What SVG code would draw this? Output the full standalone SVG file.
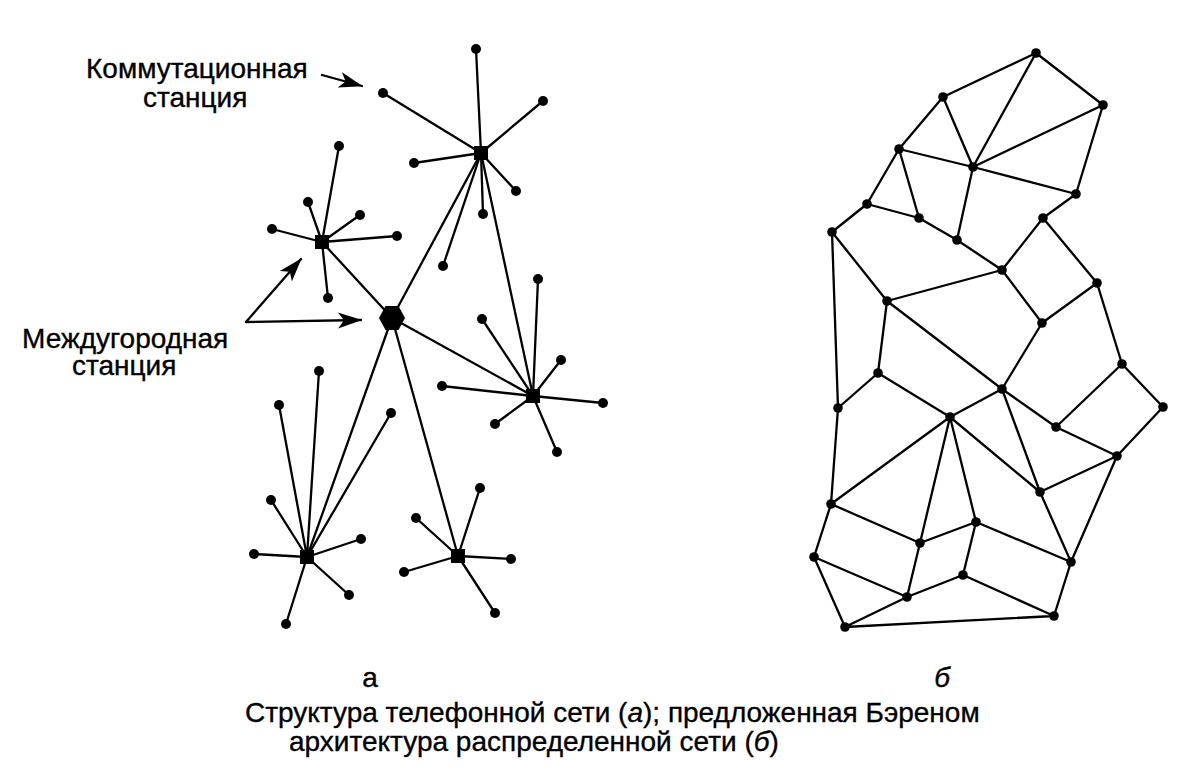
<svg xmlns="http://www.w3.org/2000/svg" width="1204" height="784" viewBox="0 0 1204 784">
<defs>
<style>
.e{stroke:#000;stroke-width:2.3;fill:none;stroke-linecap:round}
.d{fill:#000}
.s{fill:#000}
.t{font-family:"Liberation Sans",Arial,sans-serif;font-size:28px;fill:#000;stroke:#000;stroke-width:0.35}
</style>
<marker id="ah" viewBox="0 0 24 18" refX="23" refY="9" markerWidth="24" markerHeight="18" markerUnits="userSpaceOnUse" orient="auto" overflow="visible">
<path d="M0,1 L24,9 L0,17 L6,9 Z" fill="#000"/>
</marker>
</defs>
<rect width="1204" height="784" fill="#fff"/>

<g id="connectors">
<path class="e" d="M481,153L476,49M481,153L383,93M481,153L543,101M481,153L414,163M481,153L516,191M481,153L483,214M481,153L443,266"/>
<path class="e" d="M322,242L339,146M322,242L308,202M322,242L360,215M322,242L272,229M322,242L397,236M322,242L328,298"/>
<path class="e" d="M533,396L538,279M533,396L482,319M533,396L561,360M533,396L442,386M533,396L603,403M533,396L495,424M533,396L557,452"/>
<path class="e" d="M307,557L319,371M307,557L279,405M307,557L391,413M307,557L271,500M307,557L254,554M307,557L361,539M307,557L349,595M307,557L286,624"/>
<path class="e" d="M458,556L480,488M458,556L416,518M458,556L511,559M458,556L404,572M458,556L495,613"/>
<path class="e" d="M392,318L481,153M392,318L322,242M392,318L533,396M392,318L307,557M392,318L458,556M481,153L533,396"/>
<path class="e" d="M943,97L1036,53M1036,53L1103,105M1036,53L973,167M943,97L973,167M1103,105L973,167M1103,105L1076,194M973,167L1076,194M899,149L943,97M899,149L973,167M899,149L867,204M899,149L919,218M867,204L919,218M867,204L832,232M919,218L957,240M973,167L957,240M1076,194L1043,218M1043,218L1002,270M957,240L1002,270M1043,218L1097,283M1002,270L887,301M1002,270L1042,323M1097,283L1042,323M832,232L887,301"/>
<path class="e" d="M1097,283L1122,364M887,301L878,373M887,301L1002,389M1042,323L1002,389M832,232L838,408M1122,364L1163,407M1122,364L1056,427M1163,407L1117,456M1056,427L1117,456M1002,389L1056,427M1002,389L950,417M1002,389L1040,492M878,373L950,417M878,373L838,408M950,417L831,504M950,417L920,543M950,417L976,522M950,417L1040,492M1040,492L1117,456M1117,456L1071,562M1040,492L1071,562M838,408L831,504M831,504L920,543M831,504L814,557M920,543L976,522M976,522L963,575M976,522L1071,562M920,543L907,597M814,557L907,597M814,557L845,627M907,597L963,575M907,597L845,627M963,575L1054,616M1071,562L1054,616M845,627L1054,616"/>
<path class="e" d="M322,75L362,86" marker-end="url(#ah)"/>
<path class="e" d="M246,322L301,259" marker-end="url(#ah)"/>
<path class="e" d="M246,322L361,320" marker-end="url(#ah)"/>
</g>

<g id="hub-hex"><polygon class="s" points="405,318 398.5,306 385.5,306 379,318 385.5,330 398.5,330"/></g>
<g id="hub-A"><rect class="s" x="474" y="146" width="14" height="14"/></g>
<g id="hub-B"><rect class="s" x="315" y="235" width="14" height="14"/></g>
<g id="hub-C"><rect class="s" x="526" y="389" width="14" height="14"/></g>
<g id="hub-D"><rect class="s" x="300" y="550" width="14" height="14"/></g>
<g id="hub-E"><rect class="s" x="451" y="549" width="14" height="14"/></g>

<g id="leaves-left" class="d">
<circle cx="476" cy="49" r="5"/><circle cx="383" cy="93" r="5"/><circle cx="543" cy="101" r="5"/><circle cx="414" cy="163" r="5"/><circle cx="516" cy="191" r="5"/><circle cx="483" cy="214" r="5"/><circle cx="443" cy="266" r="5"/>
<circle cx="339" cy="146" r="5"/><circle cx="308" cy="202" r="5"/><circle cx="360" cy="215" r="5"/><circle cx="272" cy="229" r="5"/><circle cx="397" cy="236" r="5"/><circle cx="328" cy="298" r="5"/>
<circle cx="538" cy="279" r="5"/><circle cx="482" cy="319" r="5"/><circle cx="561" cy="360" r="5"/><circle cx="442" cy="386" r="5"/><circle cx="603" cy="403" r="5"/><circle cx="495" cy="424" r="5"/><circle cx="557" cy="452" r="5"/>
<circle cx="319" cy="371" r="5"/><circle cx="279" cy="405" r="5"/><circle cx="391" cy="413" r="5"/><circle cx="271" cy="500" r="5"/><circle cx="254" cy="554" r="5"/><circle cx="361" cy="539" r="5"/><circle cx="349" cy="595" r="5"/><circle cx="286" cy="624" r="5"/>
<circle cx="480" cy="488" r="5"/><circle cx="416" cy="518" r="5"/><circle cx="511" cy="559" r="5"/><circle cx="404" cy="572" r="5"/><circle cx="495" cy="613" r="5"/>
</g>

<g id="mesh-nodes" class="d">
<circle cx="1036" cy="53" r="4.8"/><circle cx="1103" cy="105" r="4.8"/><circle cx="943" cy="97" r="4.8"/><circle cx="899" cy="149" r="4.8"/><circle cx="973" cy="167" r="4.8"/><circle cx="1076" cy="194" r="4.8"/><circle cx="867" cy="204" r="4.8"/><circle cx="919" cy="218" r="4.8"/><circle cx="1043" cy="218" r="4.8"/><circle cx="832" cy="232" r="4.8"/><circle cx="957" cy="240" r="4.8"/><circle cx="1002" cy="270" r="4.8"/><circle cx="1097" cy="283" r="4.8"/><circle cx="887" cy="301" r="4.8"/><circle cx="1042" cy="323" r="4.8"/>
<circle cx="1122" cy="364" r="4.8"/><circle cx="878" cy="373" r="4.8"/><circle cx="1002" cy="389" r="4.8"/><circle cx="1163" cy="407" r="4.8"/><circle cx="838" cy="408" r="4.8"/><circle cx="950" cy="417" r="4.8"/><circle cx="1056" cy="427" r="4.8"/><circle cx="1117" cy="456" r="4.8"/><circle cx="1040" cy="492" r="4.8"/><circle cx="831" cy="504" r="4.8"/><circle cx="976" cy="522" r="4.8"/><circle cx="920" cy="543" r="4.8"/><circle cx="1071" cy="562" r="4.8"/><circle cx="814" cy="557" r="4.8"/><circle cx="963" cy="575" r="4.8"/><circle cx="907" cy="597" r="4.8"/><circle cx="1054" cy="616" r="4.8"/><circle cx="845" cy="627" r="4.8"/>
</g>

<g id="label-switch">
<text class="t" x="86" y="78">Коммутационная</text>
<text class="t" x="143" y="107">станция</text>
</g>
<g id="label-trunk">
<text class="t" x="22" y="348">Междугородная</text>
<text class="t" x="72" y="375">станция</text>
</g>
<g id="label-a"><text class="t" x="370" y="687" text-anchor="middle">а</text></g>
<g id="label-b"><text class="t" x="942" y="687" text-anchor="middle" font-style="italic">б</text></g>
<g id="caption">
<text class="t" x="245" y="722">Структура телефонной сети (<tspan font-style="italic">а</tspan>); предложенная Бэреном</text>
<text class="t" x="289" y="751">архитектура распределенной сети (<tspan font-style="italic">б</tspan>)</text>
</g>
</svg>
